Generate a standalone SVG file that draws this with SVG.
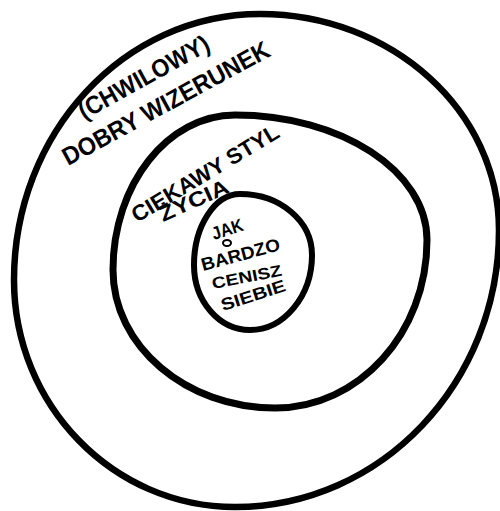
<svg xmlns="http://www.w3.org/2000/svg" width="500" height="511" viewBox="0 0 500 511">
<style>
.ring{fill:none;stroke:#000;stroke-linecap:round;stroke-linejoin:round}
.t{font-family:"Liberation Sans","DejaVu Sans",sans-serif;font-weight:bold;fill:#000}
</style>
<rect width="500" height="511" fill="#fff"/>
<g id="outer">
<path class="ring" stroke-width="6.5" d="M260,14 C392,14 499,111 499,230 C499,383 381,507 235,507 C113,507 14,405 14,280 C14,133 124,14 260,14 Z"/>
<text class="t" font-size="25" textLength="146" lengthAdjust="spacingAndGlyphs" transform="translate(84,120) rotate(-29)">(CHWILOWY)</text>
<text class="t" font-size="25" textLength="232" lengthAdjust="spacingAndGlyphs" transform="translate(68,166) rotate(-28.5)">DOBRY WIZERUNEK</text>
</g>
<g id="middle">
<path class="ring" stroke-width="7" d="M235,115 C341,115 427,171 427,240 C427,333 359,408 275,408 C186,408 113,346 113,270 C113,184 168,115 235,115 Z"/>
<text class="t" font-size="22" textLength="168" lengthAdjust="spacingAndGlyphs" transform="translate(137,223) rotate(-31)">CIEKAWY  STYL</text>
<text class="t" font-size="21" textLength="74" lengthAdjust="spacingAndGlyphs" transform="translate(163,222) rotate(-24)">ŻYCIA</text>
</g>
<g id="inner">
<path class="ring" stroke-width="6" d="M240,194 C280,194 312,221 312,255 C312,296 284,330 250,330 C219,330 194,301 194,265 C194,226 215,194 240,194 Z"/>
<text class="t" font-size="18" font-weight="normal" textLength="32" lengthAdjust="spacingAndGlyphs" transform="translate(214,240) rotate(-18)">JAK</text>
<ellipse cx="227" cy="243" rx="4" ry="3" fill="none" stroke="#000" stroke-width="2"/>
<text class="t" font-size="18" textLength="81" lengthAdjust="spacingAndGlyphs" transform="translate(203,271) rotate(-15)">BARDZO</text>
<text class="t" font-size="16" textLength="71" lengthAdjust="spacingAndGlyphs" transform="translate(213,289) rotate(-11)">CENISZ</text>
<text class="t" font-size="17" textLength="67" lengthAdjust="spacingAndGlyphs" transform="translate(223,311) rotate(-17.6)">SIEBIE</text>
</g>
<g id="connectors"/>
</svg>
